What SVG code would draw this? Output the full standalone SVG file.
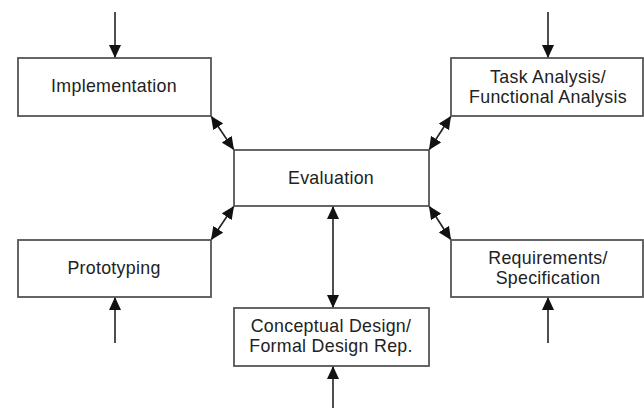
<svg xmlns="http://www.w3.org/2000/svg" width="644" height="408" viewBox="0 0 644 408">
<style>
.box{fill:#fff;stroke:#555;stroke-width:1.8}
.t{font-family:"Liberation Sans",Arial,sans-serif;font-size:17.8px;letter-spacing:0.3px;fill:#222;text-anchor:middle}
.c{stroke:#222;stroke-width:1.6;fill:none}
</style>
<defs>
<marker id="a" viewBox="0 0 13 12" refX="13" refY="6" markerWidth="13" markerHeight="12" markerUnits="userSpaceOnUse" orient="auto-start-reverse">
<path d="M0,0 L13,6 L0,12 Z" fill="#111"/>
</marker>
</defs>
<g id="connectors">
<line class="c" x1="115" y1="12" x2="115" y2="58" marker-end="url(#a)"/>
<line class="c" x1="548" y1="12" x2="548" y2="58" marker-end="url(#a)"/>
<line class="c" x1="115" y1="343" x2="115" y2="297" marker-end="url(#a)"/>
<line class="c" x1="548" y1="343" x2="548" y2="297" marker-end="url(#a)"/>
<line class="c" x1="333" y1="408" x2="333" y2="366" marker-end="url(#a)"/>
<line class="c" x1="333" y1="206" x2="333" y2="308" marker-start="url(#a)" marker-end="url(#a)"/>
<line class="c" x1="211" y1="116" x2="234" y2="150" marker-start="url(#a)" marker-end="url(#a)"/>
<line class="c" x1="451" y1="116" x2="429" y2="150" marker-start="url(#a)" marker-end="url(#a)"/>
<line class="c" x1="211" y1="240" x2="234" y2="206" marker-start="url(#a)" marker-end="url(#a)"/>
<line class="c" x1="451" y1="240" x2="429" y2="206" marker-start="url(#a)" marker-end="url(#a)"/>
</g>
<g id="implementation"><rect class="box" x="18" y="58" width="193" height="58"/><text class="t" x="114" y="92">Implementation</text></g>
<g id="task-analysis"><rect class="box" x="451" y="58" width="192" height="58"/><text class="t" x="548" y="83">Task Analysis/</text><text class="t" x="548" y="103">Functional Analysis</text></g>
<g id="evaluation"><rect class="box" x="234" y="150" width="195" height="56"/><text class="t" x="331" y="184">Evaluation</text></g>
<g id="prototyping"><rect class="box" x="18" y="240" width="193" height="57"/><text class="t" x="114" y="274">Prototyping</text></g>
<g id="requirements"><rect class="box" x="451" y="240" width="192" height="57"/><text class="t" x="548" y="264">Requirements/</text><text class="t" x="548" y="284">Specification</text></g>
<g id="conceptual-design"><rect class="box" x="234" y="308" width="195" height="58"/><text class="t" x="331" y="332">Conceptual Design/</text><text class="t" x="331" y="352">Formal Design Rep.</text></g>
</svg>
